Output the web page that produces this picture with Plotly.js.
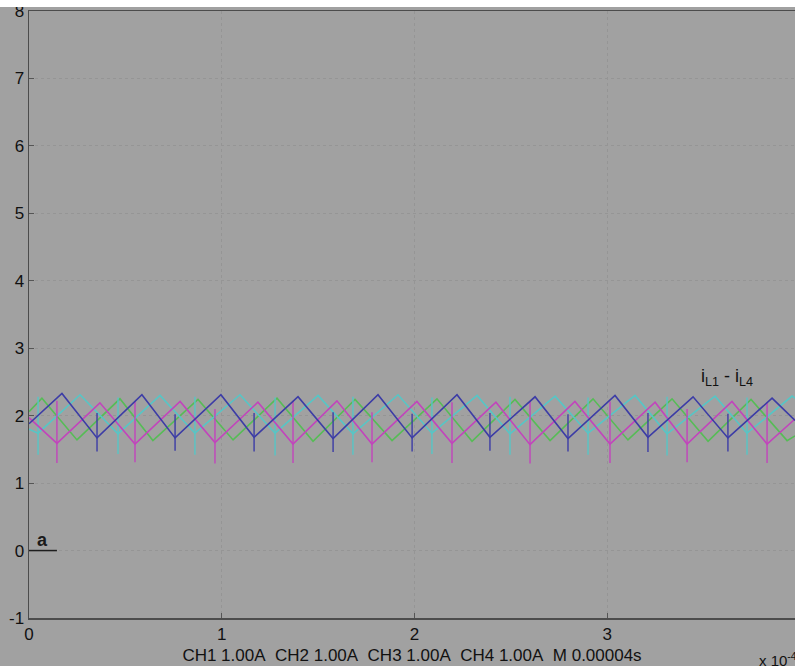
<!DOCTYPE html>
<html>
<head>
<meta charset="utf-8">
<script src="https://cdn.plot.ly/plotly-3.0.1.min.js"></script>
<style>html,body{margin:0;padding:0;background:#a1a1a1;}#chart{width:795px;height:666px;}</style>
</head>
<body>
<div id="chart"></div>
<script>
// time axis in units of 1e-4 s, current in A
// Channel 1 (blue)
const blueT = [0, 0.171, 0.353, 0.586, 0.758, 0.996, 1.168, 1.396, 1.578, 1.811, 1.988, 2.221, 2.392, 2.626, 2.797, 3.041, 3.212, 3.446, 3.627, 3.856, 3.975];
const blueV = [1.88, 2.33, 1.67, 2.31, 1.67, 2.31, 1.68, 2.28, 1.66, 2.31, 1.67, 2.31, 1.68, 2.28, 1.66, 2.30, 1.68, 2.28, 1.67, 2.26, 1.93];
const blueSpikeT = [0.353, 0.758, 1.168, 1.578, 1.988, 2.392, 2.797, 3.212, 3.627];
const blueSpikeLo = [1.47, 1.48, 1.47, 1.46, 1.47, 1.48, 1.47, 1.46, 1.47];
const blueSpikeHi = [2.04, 2.02, 2.04, 2.05, 2.03, 2.04, 2.02, 2.04, 2.03];
// Channel 2 (magenta)
const pinkT = [0, 0.145, 0.368, 0.550, 0.784, 0.965, 1.188, 1.370, 1.598, 1.780, 2.013, 2.195, 2.423, 2.600, 2.833, 3.015, 3.249, 3.415, 3.648, 3.830, 3.975];
const pinkV = [1.97, 1.59, 2.19, 1.58, 2.21, 1.60, 2.20, 1.58, 2.22, 1.58, 2.21, 1.59, 2.20, 1.57, 2.21, 1.58, 2.20, 1.58, 2.21, 1.58, 1.95];
const pinkSpikeT = [0.145, 0.550, 0.965, 1.370, 1.780, 2.195, 2.600, 3.015, 3.415, 3.830];
const pinkSpikeLo = [1.30, 1.31, 1.29, 1.30, 1.31, 1.30, 1.29, 1.30, 1.31, 1.30];
const pinkSpikeHi = [2.22, 2.21, 2.10, 2.22, 2.05, 2.20, 2.22, 2.21, 2.10, 2.20];
// Channel 3 (green)
const greenT = [0, 0.067, 0.249, 0.472, 0.643, 0.877, 1.059, 1.287, 1.474, 1.692, 1.884, 2.117, 2.299, 2.522, 2.704, 2.927, 3.108, 3.337, 3.524, 3.747, 3.934, 3.975];
const greenV = [2.06, 2.26, 1.64, 2.25, 1.63, 2.24, 1.64, 2.26, 1.62, 2.24, 1.63, 2.25, 1.62, 2.24, 1.63, 2.25, 1.64, 2.25, 1.62, 2.24, 1.63, 1.70];
// Channel 4 (cyan)
const cyanT = [0, 0.047, 0.265, 0.462, 0.680, 0.861, 1.095, 1.277, 1.500, 1.681, 1.915, 2.091, 2.325, 2.496, 2.730, 2.901, 3.145, 3.311, 3.560, 3.726, 3.960, 3.975];
const cyanV = [1.80, 1.74, 2.31, 1.73, 2.30, 1.74, 2.31, 1.74, 2.30, 1.73, 2.31, 1.74, 2.30, 1.73, 2.29, 1.74, 2.30, 1.73, 2.29, 1.74, 2.29, 2.26];
const cyanSpikeT = [0.047, 0.462, 0.861, 1.277, 1.681, 2.091, 2.496, 2.901, 3.311, 3.726];
const cyanSpikeLo = [1.42, 1.43, 1.42, 1.41, 1.42, 1.43, 1.42, 1.42, 1.41, 1.42];
const cyanSpikeHi = [2.28, 2.27, 2.28, 2.27, 2.28, 2.27, 2.28, 2.27, 2.28, 2.27];

const xTicks = [0, 1, 2, 3];
const xTickText = ['0', '1', '2', '3'];
const yTicks = [-1, 0, 1, 2, 3, 4, 5, 6, 7, 8];
const yTickText = ['-1', '0', '1', '2', '3', '4', '5', '6', '7', '8'];

const colors = {blue: '#3c3ca6', pink: '#c244bc', green: '#56bc56', cyan: '#56c6c6'};

function spikeTrace(ts, lo, hi, color) {
  const x = [], y = [];
  ts.forEach((t, i) => { x.push(t, t, null); y.push(lo[i], hi[i], null); });
  return {x, y, mode: 'lines', line: {color, width: 1.4}, hoverinfo: 'skip', showlegend: false};
}
function waveTrace(t, v, color) {
  return {x: t, y: v, mode: 'lines', line: {color, width: 1.6}, showlegend: false};
}

const data = [
  waveTrace(greenT, greenV, colors.green),
  spikeTrace(cyanSpikeT, cyanSpikeLo, cyanSpikeHi, colors.cyan),
  waveTrace(cyanT, cyanV, colors.cyan),
  spikeTrace(pinkSpikeT, pinkSpikeLo, pinkSpikeHi, colors.pink),
  waveTrace(pinkT, pinkV, colors.pink),
  spikeTrace(blueSpikeT, blueSpikeLo, blueSpikeHi, colors.blue),
  waveTrace(blueT, blueV, colors.blue)
];

const font = {family: 'Liberation Sans, Arial, sans-serif', size: 17, color: '#111'};
const nb = '\u00a0';
const titleText = ['CH1 1.00A', 'CH2 1.00A', 'CH3 1.00A', 'CH4 1.00A', 'M 0.00004s'].join(nb + nb);

const layout = {
  width: 795, height: 666,
  margin: {l: 29, r: 0, t: 11, b: 48},
  paper_bgcolor: '#a1a1a1', plot_bgcolor: '#a1a1a1',
  font: font,
  showlegend: false,
  xaxis: {
    range: [0, 3.975], tickvals: xTicks, ticktext: xTickText,
    ticks: 'inside', ticklen: 5, tickcolor: '#555', tickwidth: 1,
    showline: true, linecolor: '#4c4c4c', linewidth: 1.5, mirror: true,
    showgrid: true, gridcolor: '#959595', griddash: 'dot', gridwidth: 1,
    zeroline: false, tickfont: font, automargin: false,
    title: {text: titleText, font: {family: font.family, size: 17, color: '#111'}, standoff: 6}
  },
  yaxis: {
    range: [-1, 8], tickvals: yTicks, ticktext: yTickText,
    ticks: 'inside', ticklen: 5, tickcolor: '#555', tickwidth: 1,
    showline: true, linecolor: '#4c4c4c', linewidth: 1.5, mirror: true,
    showgrid: true, gridcolor: '#959595', griddash: 'dot', gridwidth: 1,
    zeroline: false, tickfont: font, automargin: false
  },
  shapes: [
    {type: 'rect', xref: 'paper', yref: 'paper', x0: -0.1, x1: 1.1, y0: 1 + 4/607, y1: 1 + 12/607, fillcolor: '#ffffff', line: {width: 0}, layer: 'above'},
    {type: 'line', xref: 'x', yref: 'y', x0: 0, x1: 0.145, y0: 0, y1: 0, line: {color: '#1e1e1e', width: 1.5}}
  ],
  annotations: [
    {xref: 'x', yref: 'y', x: 3.477, y: 2.56, xanchor: 'left', yanchor: 'middle', showarrow: false,
     text: 'i<sub>L1</sub> - i<sub>L4</sub>', font: {family: font.family, size: 18, color: '#111'}},
    {xref: 'x', yref: 'y', x: 0.07, y: 0.15, xanchor: 'center', yanchor: 'middle', showarrow: false,
     text: '<b>a</b>', font: {family: font.family, size: 18, color: '#1a1a1a'}},
    {xref: 'paper', yref: 'paper', x: 0.950, y: -0.069, xanchor: 'left', yanchor: 'middle', showarrow: false,
     text: 'x 10<sup>-4</sup>', font: {family: font.family, size: 15, color: '#111'}}
  ]
};

Plotly.newPlot('chart', data, layout, {displayModeBar: false, staticPlot: true});
</script>
</body>
</html>
